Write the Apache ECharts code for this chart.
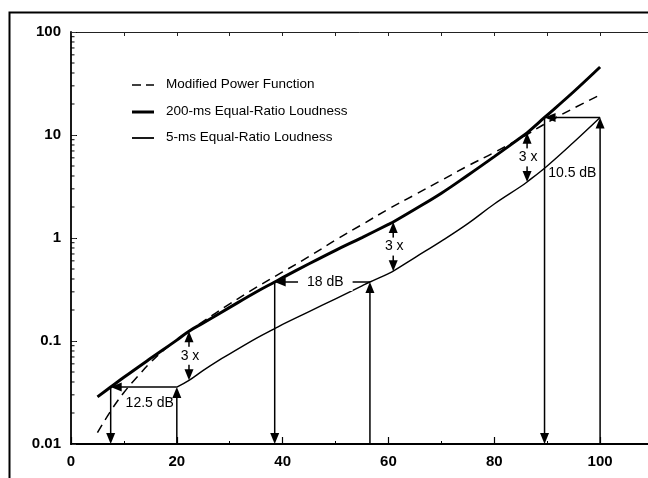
<!DOCTYPE html>
<html>
<head>
<meta charset="utf-8">
<script src="https://cdn.jsdelivr.net/npm/echarts@6/dist/echarts.min.js"></script>
<style>
  html, body { margin: 0; padding: 0; background: #fff; }
  #chart { width: 648px; height: 478px; }
</style>
</head>
<body>
<div id="chart"></div>
<script>
// ---- data ----
const seriesNames = ['Modified Power Function', '200-ms Equal-Ratio Loudness', '5-ms Equal-Ratio Loudness'];

// Modified power function
const powerX = [5, 7.5, 10, 12.5, 15, 17.5, 20, 25, 30, 35, 40, 45, 50, 55, 60, 65, 70, 75, 80, 85, 90, 95, 100];
const powerY = [0.0129, 0.0209, 0.0316, 0.0447, 0.0617, 0.0813, 0.102, 0.155, 0.229, 0.331, 0.468, 0.661, 0.955, 1.35, 1.91, 2.63, 3.63, 5.01, 6.76, 9.33, 13.2, 18.2, 24.5];

// 200-ms equal-ratio loudness
const long200X = [5, 7.5, 10, 15, 20, 22.3, 25, 30, 35, 38.5, 40, 45, 50, 55, 60, 60.9, 65, 70, 75, 80, 85, 86.2, 89.5, 95, 100];
const long200Y = [0.0287, 0.0357, 0.0444, 0.0675, 0.102, 0.1245, 0.1496, 0.212, 0.299, 0.374, 0.412, 0.562, 0.759, 1.01, 1.355, 1.43, 1.90, 2.72, 4.07, 6.17, 9.44, 10.5, 14.8, 26.3, 45.7];

// 5-ms equal-ratio loudness
const short5X = [20, 22.3, 25, 28, 30, 35, 38.5, 40, 45, 50, 55, 56.5, 60, 60.9, 65, 70, 75, 80, 85, 86.2, 90, 95, 100];
const short5Y = [0.0357, 0.0415, 0.0519, 0.0653, 0.075, 0.106, 0.132, 0.145, 0.193, 0.257, 0.343, 0.374, 0.452, 0.477, 0.646, 0.933, 1.38, 2.14, 3.16, 3.50, 5.01, 8.51, 14.8];

// Level shifts between the two loudness curves (dB along x)
const shiftLabels = ['12.5 dB', '18 dB', '10.5 dB'];
const shiftFrom = [7.5, 38.5, 89.5];   // x on the 200-ms curve
const shiftTo = [20, 56.5, 100];       // x on the 5-ms curve

// Loudness ratio between the curves
const ratioLabel = '3 x';
const ratioX = [22.3, 60.9, 86.2];
const ratioFactor = 3;

// Axis ticks
const xTicks = [0, 20, 40, 60, 80, 100];
const yTicks = [0.01, 0.1, 1, 10, 100];

// ---- derived marks ----
const pairs = (xs, ys) => xs.map((x, i) => [x, ys[i]]);
const yAt = (xs, ys, x) => ys[xs.indexOf(x)];
const yFloor = yTicks[0];

const arrowRows = [];   // [x1, y1, x2, y2]
const arrowHeads = [];  // [headAtStart, headAtEnd]
const labelRows = [];   // [x, y]
const labelTexts = [];
const labelKinds = [];

shiftLabels.forEach((txt, i) => {
  const x0 = shiftFrom[i], x1 = shiftTo[i];
  const level = yAt(short5X, short5Y, x1);
  arrowRows.push([x0, level, x0, yFloor]); arrowHeads.push([0, 1]);
  arrowRows.push([x1, level, x0, level]); arrowHeads.push([0, 1]);
  arrowRows.push([x1, yFloor, x1, level]); arrowHeads.push([0, 1]);
  labelRows.push([(x0 + x1) / 2, level]);
  labelTexts.push(txt);
  labelKinds.push('shift' + i);
});

ratioX.forEach((x) => {
  const top = yAt(long200X, long200Y, x);
  const bottom = top / ratioFactor;
  arrowRows.push([x, top, x, bottom]); arrowHeads.push([1, 1]);
  labelRows.push([x, Math.sqrt(top * bottom)]);
  labelTexts.push(ratioLabel);
  labelKinds.push('ratio');
});

// minor ticks of the log axis (2..9 in each decade)
const minorTickRows = [];
for (let k = 0; k < yTicks.length - 1; k++) {
  for (let m = 2; m <= 9; m++) minorTickRows.push([0, yTicks[k] * m]);
}

// ---- layout / styles ----
const FONT = '"Liberation Sans", Arial, Helvetica, sans-serif';
const labelOffsets = {
  shift0: { dx: 6, dy: 16, pad: [0, 0], bg: null },
  shift1: { dx: 3, dy: 0, pad: [2, 9], bg: '#fff' },
  shift2: { dx: 0, dy: 56, pad: [0, 0], bg: null },
  ratio: { dx: 1, dy: 0, pad: [2, 2], bg: '#fff' }
};

function arrowHeadShape(tip, ux, uy) {
  const L = 11, W = 9;
  const bx = tip[0] - ux * L, by = tip[1] - uy * L;
  const px = -uy * W / 2, py = ux * W / 2;
  return {
    type: 'polygon',
    shape: { points: [[tip[0], tip[1]], [bx + px, by + py], [bx - px, by - py]] },
    style: { fill: '#000' }
  };
}

const chart = echarts.init(document.getElementById('chart'), null, { renderer: 'canvas' });

const lineBase = { type: 'line', showSymbol: false, symbol: 'none', smooth: 0.4, silent: true, animation: false, xAxisIndex: 0, yAxisIndex: 0 };

chart.setOption({
  animation: false,
  backgroundColor: '#fff',
  grid: { left: 71, right: -5, top: 32, bottom: 34, containLabel: false, outerBoundsMode: 'none' },
  xAxis: [
    {
      type: 'value', position: 'bottom', min: 0, max: 110, interval: 20,
      axisLine: { lineStyle: { color: '#000', width: 2 } },
      axisTick: { inside: true, length: 7, lineStyle: { color: '#000', width: 1.2 } },
      minorTick: { show: true, splitNumber: 2, length: 3, lineStyle: { color: '#000', width: 1 } },
      splitLine: { show: false }, minorSplitLine: { show: false },
      axisLabel: {
        margin: 10, color: '#000', fontSize: 15, fontWeight: 'bold', fontFamily: FONT,
        showMaxLabel: false,
        formatter: (v) => (xTicks.indexOf(v) >= 0 ? String(v) : '')
      }
    },
    {
      type: 'value', position: 'top', min: 0, max: 110, interval: 10,
      axisLine: { lineStyle: { color: '#222', width: 1 } },
      axisTick: { inside: true, length: 4, lineStyle: { color: '#222', width: 1 } },
      axisLabel: { show: false }, splitLine: { show: false }
    }
  ],
  yAxis: [
    {
      type: 'log', logBase: 10, min: yTicks[0], max: yTicks[yTicks.length - 1], splitNumber: 4,
      axisLine: { lineStyle: { color: '#000', width: 1.8 } },
      axisTick: { inside: true, length: 6, lineStyle: { color: '#000', width: 1 } },
      splitLine: { show: false },
      axisLabel: {
        margin: 10, color: '#000', fontSize: 15, fontWeight: 'bold', fontFamily: FONT,
        formatter: (v) => String(Number(Number(v).toPrecision(3)))
      }
    },
    {
      type: 'log', logBase: 10, min: yTicks[0], max: yTicks[yTicks.length - 1], splitNumber: 4,
      position: 'right', offset: -5,
      axisLine: { show: false },
      axisTick: { inside: true, length: 4, lineStyle: { color: '#333', width: 1 } },
      axisLabel: { show: false }, splitLine: { show: false }
    }
  ],
  graphic: [
    {
      type: 'rect', left: 7, top: 10, z: -1, silent: true,
      shape: { x: 0, y: 0, width: 700, height: 520 },
      style: { fill: 'none', stroke: '#000', lineWidth: 2 }
    },
    // key
    { type: 'line', silent: true, shape: { x1: 132, y1: 85, x2: 154, y2: 85 }, style: { stroke: '#000', lineWidth: 1.5, lineDash: [9, 5] } },
    { type: 'line', silent: true, shape: { x1: 132, y1: 112, x2: 154, y2: 112 }, style: { stroke: '#000', lineWidth: 3 } },
    { type: 'line', silent: true, shape: { x1: 132, y1: 138, x2: 154, y2: 138 }, style: { stroke: '#000', lineWidth: 1.8 } },
    { type: 'text', silent: true, left: 166, top: 77, style: { text: seriesNames[0], font: '13.5px ' + FONT, fill: '#000' } },
    { type: 'text', silent: true, left: 166, top: 104, style: { text: seriesNames[1], font: '13.5px ' + FONT, fill: '#000' } },
    { type: 'text', silent: true, left: 166, top: 130, style: { text: seriesNames[2], font: '13.5px ' + FONT, fill: '#000' } }
  ],
  series: [
    Object.assign({}, lineBase, {
      name: seriesNames[0], data: pairs(powerX, powerY), z: 3,
      lineStyle: { color: '#000', width: 1.5, type: [9, 6] }
    }),
    Object.assign({}, lineBase, {
      name: seriesNames[1], data: pairs(long200X, long200Y), z: 4,
      lineStyle: { color: '#000', width: 3 }
    }),
    Object.assign({}, lineBase, {
      name: seriesNames[2], data: pairs(short5X, short5Y), z: 4,
      lineStyle: { color: '#000', width: 1.4 }
    }),
    {
      // annotation arrows
      type: 'custom', silent: true, clip: false, z: 5, xAxisIndex: 0, yAxisIndex: 0,
      data: arrowRows,
      encode: { x: [0, 2], y: [1, 3] },
      renderItem(params, api) {
        const a = api.coord([api.value(0), api.value(1)]);
        const b = api.coord([api.value(2), api.value(3)]);
        const heads = arrowHeads[params.dataIndex];
        const dx = b[0] - a[0], dy = b[1] - a[1];
        const len = Math.hypot(dx, dy) || 1;
        const ux = dx / len, uy = dy / len;
        const children = [];
        const s = a.slice(), e = b.slice();
        if (heads[0]) { children.push(arrowHeadShape(a, -ux, -uy)); s[0] += ux * 8; s[1] += uy * 8; }
        if (heads[1]) { children.push(arrowHeadShape(b, ux, uy)); e[0] -= ux * 8; e[1] -= uy * 8; }
        children.unshift({
          type: 'line',
          shape: { x1: s[0], y1: s[1], x2: e[0], y2: e[1] },
          style: { stroke: '#000', lineWidth: 1.5 }
        });
        return { type: 'group', children };
      }
    },
    {
      // annotation labels
      type: 'custom', silent: true, clip: false, z: 6, xAxisIndex: 0, yAxisIndex: 0,
      data: labelRows,
      encode: { x: 0, y: 1 },
      renderItem(params, api) {
        const p = api.coord([api.value(0), api.value(1)]);
        const o = labelOffsets[labelKinds[params.dataIndex]];
        return {
          type: 'text',
          x: p[0] + o.dx, y: p[1] + o.dy,
          style: {
            text: labelTexts[params.dataIndex],
            font: '14px ' + FONT, fill: '#000',
            align: 'center', verticalAlign: 'middle',
            backgroundColor: o.bg || 'transparent',
            padding: o.pad
          }
        };
      }
    },
    {
      // minor ticks on the log axis
      type: 'custom', silent: true, clip: false, z: 5, xAxisIndex: 0, yAxisIndex: 0,
      data: minorTickRows,
      encode: { x: 0, y: 1 },
      renderItem(params, api) {
        const p = api.coord([api.value(0), api.value(1)]);
        return {
          type: 'line',
          shape: { x1: p[0], y1: p[1], x2: p[0] + 3.5, y2: p[1] },
          style: { stroke: '#000', lineWidth: 1 }
        };
      }
    }
  ]
});
</script>
</body>
</html>
